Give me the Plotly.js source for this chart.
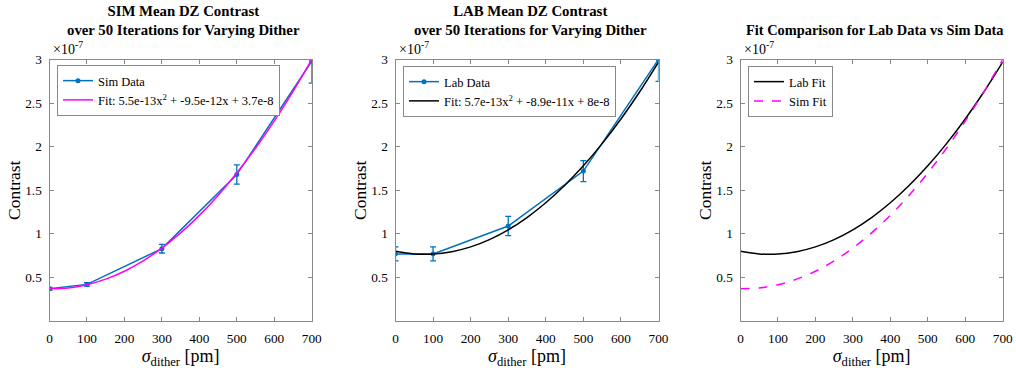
<!DOCTYPE html>
<html><head><meta charset="utf-8">
<script src="https://cdn.plot.ly/plotly-3.0.1.min.js"></script>
<style>
body{margin:0;background:#fff}#c{width:1016px;height:372px}
</style>
</head><body><div id="c"></div>
<script>
// values in units of 1e-7
const ditherX = [0, 100, 300, 500, 700];
const simMean = [0.37, 0.42, 0.83, 1.68, 2.98];
const simErr  = [0.015, 0.02, 0.05, 0.11, 0.25];
const labMean = [0.77, 0.77, 1.09, 1.72, 3.00];
const labErr  = [0.08, 0.08, 0.11, 0.12, 0.25];
const fitX    = [0, 50, 100, 150, 200, 250, 300, 350, 400, 450, 500, 550, 600, 650, 700];
const simFit  = [0.370, 0.379, 0.416, 0.480, 0.571, 0.690, 0.837, 1.011, 1.212, 1.441, 1.698, 1.982, 2.293, 2.632, 2.999];
const labFit  = [0.800, 0.770, 0.768, 0.795, 0.850, 0.934, 1.046, 1.187, 1.356, 1.554, 1.780, 2.035, 2.318, 2.630, 2.970];
const xTicks = [0, 100, 200, 300, 400, 500, 600, 700];
const yTicks = [0.5, 1, 1.5, 2, 2.5, 3];
const titles = [
  "<b>SIM Mean DZ Contrast<br>over 50 Iterations for Varying Dither</b>",
  "<b>LAB Mean DZ Contrast<br>over 50 Iterations for Varying Dither</b>",
  "<b>Fit Comparison for Lab Data vs Sim Data</b>"
];
const simFitLabel = "Fit: 5.5e-13x<sup>2</sup> + -9.5e-12x + 3.7e-8";
const labFitLabel = "Fit: 5.7e-13x<sup>2</sup> + -8.9e-11x + 8e-8";

const F = "Liberation Serif";
const blue = "#0072BD", mag = "#FF00FF";
const H = 372, W = 1016;
const px = v => v / W, py = v => 1 - v / H;
const doms = [[49.5, 311.7], [395.5, 658.5], [740.5, 1002.7]];
const yDom = [py(321), py(59.5)];

const traces = [
  {x: ditherX, y: simMean, type: "scatter", mode: "lines+markers", name: "Sim Data",
   line: {color: blue, width: 1.5}, marker: {color: blue, size: 5},
   error_y: {type: "data", array: simErr, color: blue, thickness: 1.3, width: 3},
   xaxis: "x", yaxis: "y", legend: "legend"},
  {x: fitX, y: simFit, type: "scatter", mode: "lines", name: simFitLabel, line: {color: mag, width: 1.5, shape: "spline"},
   xaxis: "x", yaxis: "y", legend: "legend"},
  {x: ditherX, y: labMean, type: "scatter", mode: "lines+markers", name: "Lab Data",
   line: {color: blue, width: 1.5}, marker: {color: blue, size: 5},
   error_y: {type: "data", array: labErr, color: blue, thickness: 1.3, width: 3},
   xaxis: "x2", yaxis: "y2", legend: "legend2"},
  {x: fitX, y: labFit, type: "scatter", mode: "lines", name: labFitLabel, line: {color: "#000", width: 1.5, shape: "spline"},
   xaxis: "x2", yaxis: "y2", legend: "legend2"},
  {x: fitX, y: labFit, type: "scatter", mode: "lines", name: "Lab Fit", line: {color: "#000", width: 1.5, shape: "spline"},
   xaxis: "x3", yaxis: "y3", legend: "legend3"},
  {x: fitX, y: simFit, type: "scatter", mode: "lines", name: "Sim Fit", line: {color: mag, width: 1.5, dash: "dash", shape: "spline"},
   xaxis: "x3", yaxis: "y3", legend: "legend3"}
];

const layout = {
  width: W, height: H, margin: {l: 0, r: 0, t: 0, b: 0},
  paper_bgcolor: "#fff", plot_bgcolor: "#fff",
  font: {family: F, color: "#000", size: 13},
  annotations: []
};
const legPos = [[57, 65], [403, 66], [748, 66]];
for (let i = 0; i < 3; i++) {
  const s = i === 0 ? "" : String(i + 1);
  layout["xaxis" + s] = {
    domain: [px(doms[i][0]), px(doms[i][1])], range: [0, 700], anchor: "y" + s,
    tickvals: xTicks, ticks: "inside", ticklen: 4, tickcolor: "#888", showline: true, linecolor: "#888", linewidth: 1,
    mirror: "ticks", showgrid: false, zeroline: false, tickfont: {family: F, size: 13.3, color: "#000"},
    ticklabelstandoff: 5,
    title: {text: "<i>σ</i><sub>dither</sub> [pm]", font: {family: F, size: 18, color: "#000"}, standoff: 4}
  };
  layout["yaxis" + s] = {
    domain: yDom, range: [0, 3], anchor: "x" + s,
    tickvals: yTicks, ticks: "inside", ticklen: 4, tickcolor: "#888", showline: true, linecolor: "#888", linewidth: 1,
    mirror: "ticks", showgrid: false, zeroline: false, tickfont: {family: F, size: 13.3, color: "#000"},
    ticklabelstandoff: 4,
    title: {text: "Contrast", font: {family: F, size: 17.5, color: "#000"}, standoff: 0}
  };
  layout[i === 0 ? "legend" : "legend" + (i + 1)] = {
    x: px(legPos[i][0]), y: py(legPos[i][1]), xanchor: "left", yanchor: "top",
    bgcolor: "#fff", bordercolor: "#888", borderwidth: 1,
    font: {family: F, size: 12.5, color: "#000"}, tracegroupgap: 0, itemwidth: 30
  };
  const cx = (doms[i][0] + doms[i][1]) / 2 + 3;
  layout.annotations.push({
    text: titles[i], x: px(cx), y: py(i === 2 ? 20 : 1), xref: "paper", yref: "paper",
    xanchor: "center", yanchor: "top", showarrow: false, font: {family: F, size: i === 2 ? 14.4 : 14.8, color: "#000"}
  });
  layout.annotations.push({
    text: "×10<sup>-7</sup>", x: px(doms[i][0] + 1), y: py(59), xref: "paper", yref: "paper",
    xanchor: "left", yanchor: "bottom", showarrow: false, font: {family: F, size: 14, color: "#000"}
  });
}
Plotly.newPlot("c", traces, layout, {staticPlot: true});
</script></body></html>
